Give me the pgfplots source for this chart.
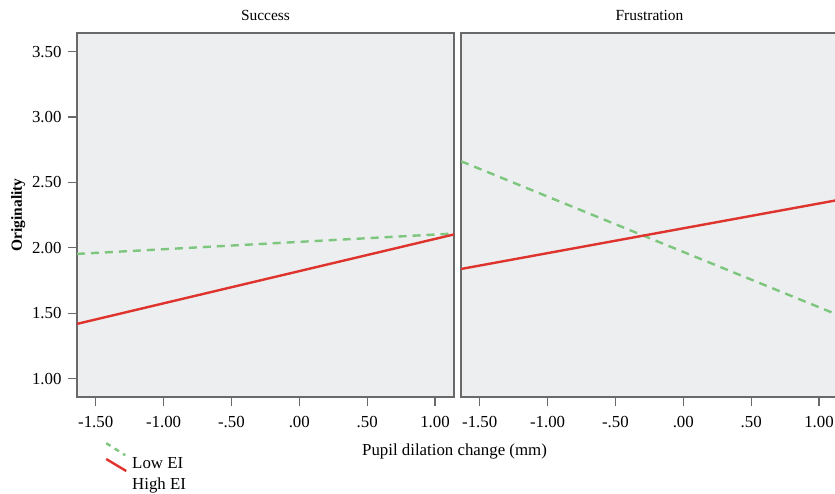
\documentclass[border=0pt]{standalone}
\usepackage{fontspec}
\setmainfont{Liberation Serif}
\usepackage{pgfplots}
\pgfplotsset{compat=1.18}
\definecolor{bg}{RGB}{237,238,240}
\definecolor{frame}{RGB}{105,105,105}
\definecolor{lowg}{RGB}{125,198,125}
\definecolor{highr}{RGB}{222,52,45}
\newcommand{\fs}{\fontsize{15.5}{18}\selectfont}
\newcommand{\fl}{\fontsize{16.9}{19}\selectfont}
\pgfplotsset{panel/.style={
  scale only axis, width=377bp, height=364bp,
  xmin=-1.638, xmax=1.14, ymin=0.86, ymax=3.643,
  axis background/.style={fill=bg},
  axis line style={frame, line width=1.3bp},
  xtick={-1.5,-1,-0.5,0,0.5,1},
  xticklabels={-1.50,-1.00,-.50,.00,.50,1.00},
  xtick pos=left, ytick pos=left, tick align=outside,
  major tick length=9bp,
  every tick/.style={frame, line width=1.2bp},
  tick label style={font=\fl},
  xticklabel style={yshift=-7bp},
  yticklabel style={xshift=-3bp},
  title style={font=\fs, yshift=3bp},
  clip=true,
}}
\pgfplotstableread{
x y
-1.638 1.954
1.14 2.11
}\succlow
\pgfplotstableread{
x y
-1.638 1.419
1.14 2.103
}\succhigh
\pgfplotstableread{
x y
-1.637 2.662
1.14 1.487
}\frulow
\pgfplotstableread{
x y
-1.637 1.839
1.14 2.366
}\fruhigh
\begin{document}
\begin{tikzpicture}
\begin{axis}[panel, title={Success},
  ytick={1,1.5,2,2.5,3,3.5},
  yticklabels={1.00,1.50,2.00,2.50,3.00,3.50},
  ylabel={\textbf{Originality}}, ylabel style={font=\fs},
  legend style={at={(axis description cs:0.077,-0.16)}, anchor=north west, draw=none, fill=none, inner sep=0pt, font=\fl, row sep=4bp},
  legend cell align=left]
\addplot[lowg, line width=2.4bp, dash pattern=on 8bp off 6bp,
  legend image code/.code={\path[draw=none, fill=none] (0bp,0bp) rectangle (24bp,0.1bp);
    \draw[overlay, lowg, line width=2.4bp, dash pattern=on 5bp off 5bp] (0bp,20.5bp) -- (19bp,8.5bp);}] table {\succlow};
\addlegendentry{Low EI}
\addplot[highr, line width=2.4bp,
  legend image code/.code={\path[draw=none, fill=none] (0bp,0bp) rectangle (24bp,0.1bp);
    \draw[overlay, highr, line width=2.4bp] (0bp,25.5bp) -- (20bp,13.5bp);}] table {\succhigh};
\addlegendentry{High EI}
\end{axis}
\begin{axis}[panel, at={(384bp,0)}, title={Frustration}, ytick=\empty]
\addplot[lowg, line width=2.4bp, dash pattern=on 8bp off 6bp] table {\frulow};
\addplot[highr, line width=2.4bp] table {\fruhigh};
\end{axis}
\node[font=\fl] at (377.5bp,-54bp) {Pupil dilation change (mm)};
\pgfresetboundingbox
\path[use as bounding box] (-77bp,-97bp) rectangle (758bp,397bp);
\end{tikzpicture}
\end{document}
